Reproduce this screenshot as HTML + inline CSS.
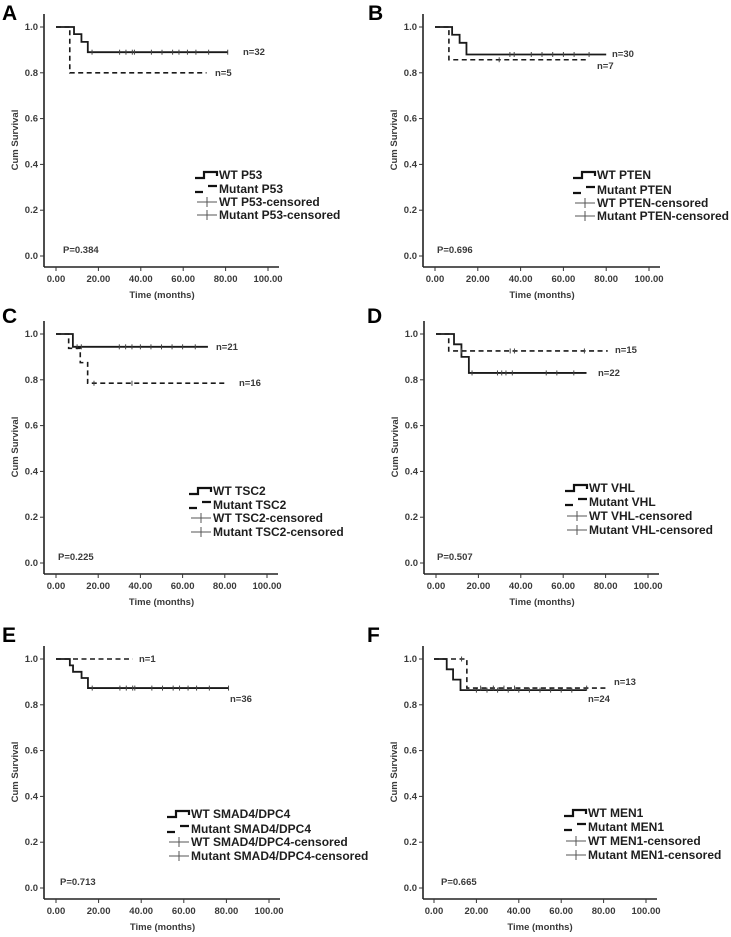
<!DOCTYPE html>
<html><head><meta charset="utf-8"><style>
html,body{margin:0;padding:0;background:#fff;}
svg{display:block;}
text{font-family:"Liberation Sans",Arial,sans-serif;fill:#2a2a2a;}
.t{font-size:9.5px;font-weight:bold;fill:#3a3a3a;}
.lg{font-size:12px;font-weight:bold;fill:#1e1e1e;}
.pl{font-size:21px;font-weight:900;fill:#000;}
</style></head><body>
<svg id="s" width="731" height="937" xmlns="http://www.w3.org/2000/svg"></svg>
<script>
const S=document.getElementById('s');let h='';
function P(o){
 const {ax,x0,sx,y1,lab,lx,ly}=o;const sy=229;
 const X=t=>x0+t*sx,Y=v=>y1+(1-v)*sy;
 const yb=y1+240;
 h+=`<text class="pl" x="${lx}" y="${ly}">${lab}</text>`;
 h+=`<line x1="${ax}" y1="${y1-13}" x2="${ax}" y2="${yb}" stroke="#222" stroke-width="1.6"/>`;
 h+=`<line x1="${ax}" y1="${yb}" x2="${X(100)+11}" y2="${yb}" stroke="#222" stroke-width="1.6"/>`;
 for(let i=0;i<=5;i++){const v=i/5,y=Y(v);h+=`<line x1="${ax-4}" y1="${y}" x2="${ax}" y2="${y}" stroke="#333"/><text class="t" x="${ax-6}" y="${y+3}" text-anchor="end">${v.toFixed(1)}</text>`;}
 for(let i=0;i<=5;i++){const x=X(i*20);h+=`<line x1="${x}" y1="${yb}" x2="${x}" y2="${yb+4}" stroke="#333"/><text class="t" x="${x}" y="${yb+15}" text-anchor="middle">${(i*20).toFixed(2)}</text>`;}
 h+=`<text class="t" x="${(X(0)+X(100))/2}" y="${yb+31}" text-anchor="middle">Time (months)</text>`;
 h+=`<text class="t" transform="translate(${ax-26},${y1+113}) rotate(-90)" text-anchor="middle">Cum Survival</text>`;
 h+=`<text class="t" x="${o.px}" y="${y1+226}">P=${o.p}</text>`;
 for(const c of o.curves){
  let d=`M${X(0)},${Y(1)}`;let v=1;
  for(const [t,nv] of c.steps){d+=` H${X(t)} V${Y(nv)}`;v=nv;}
  d+=` H${X(c.end)}`;
  h+=`<path d="${d}" fill="none" stroke="#1a1a1a" stroke-width="${c.dash?1.6:1.8}" ${c.dash?'stroke-dasharray="5,3.5"':''}/>`;
  for(const t of c.cens){let vv=1;for(const [ts,nv] of c.steps) if(t>=ts) vv=nv;
   h+=`<line x1="${X(t)}" y1="${Y(vv)-2.5}" x2="${X(t)}" y2="${Y(vv)+2.5}" stroke="#444" stroke-width="1"/>`;}
  h+=`<text class="t" x="${c.nx}" y="${c.ny+3}">${c.n}</text>`;
 }
 const g=o.leg;const lx2=g.x,tx=g.x+24;const names=[`WT ${o.gene}`,`Mutant ${o.gene}`,`WT ${o.gene}-censored`,`Mutant ${o.gene}-censored`];
 g.y.forEach((y,i)=>{
  if(i==0)h+=`<path d="M${lx2},${y+3} H${lx2+9} V${y-3} H${lx2+22} V${y+1}" fill="none" stroke="#111" stroke-width="2.2"/>`;
  else if(i==1)h+=`<path d="M${lx2},${y+3} H${lx2+8} M${lx2+13},${y-3} H${lx2+22}" fill="none" stroke="#111" stroke-width="2.2"/>`;
  else h+=`<path d="M${lx2+2},${y} H${lx2+22} M${lx2+12},${y-5} V${y+5}" fill="none" stroke="#555" stroke-width="1"/>`;
  h+=`<text class="lg" x="${tx}" y="${y+4}">${names[i]}</text>`;
 });
}
const cm=[17,30,33,36,37,45,50,55,58,62,66,72,81];
P({ax:44,x0:56,sx:2.12,y1:27,lab:'A',lx:2,ly:20,p:'0.384',px:63,gene:'P53',
 curves:[{steps:[[8.5,0.969],[12,0.935],[15,0.89]],end:81,cens:cm,n:'n=32',nx:243,ny:52},
 {dash:1,steps:[[6.5,0.8]],end:71,cens:[],n:'n=5',nx:215,ny:73}],leg:{x:195,y:[175,189,202,215]}});
P({ax:423,x0:435,sx:2.14,y1:27,lab:'B',lx:368,ly:20,p:'0.696',px:437,gene:'PTEN',
 curves:[{steps:[[8,0.966],[11.5,0.931],[14.7,0.88]],end:80,cens:[35,37,45,50,55,60,65,72],n:'n=30',nx:612,ny:54},
 {dash:1,steps:[[6.5,0.857]],end:71,cens:[30],n:'n=7',nx:597,ny:66}],leg:{x:573,y:[175,190,203,216]}});
P({ax:44,x0:56,sx:2.11,y1:334,lab:'C',lx:2,ly:323,p:'0.225',px:58,gene:'TSC2',
 curves:[{steps:[[8,0.944]],end:72,cens:[10,12,30,33,36,40,45,50,55,60,66],n:'n=21',nx:216,ny:347},
 {dash:1,steps:[[6,0.9375],[11.5,0.875],[15,0.785]],end:81,cens:[18,36],n:'n=16',nx:239,ny:383}],leg:{x:189,y:[491,505,518,532]}});
P({ax:424,x0:436,sx:2.12,y1:334,lab:'D',lx:367,ly:323,p:'0.507',px:437,gene:'VHL',
 curves:[{steps:[[8.5,0.955],[12,0.9],[15.5,0.83]],end:71,cens:[17,29,31,33,36,52,57,65],n:'n=22',nx:598,ny:373},
 {dash:1,steps:[[6,0.926]],end:81,cens:[12,35,37,70],n:'n=15',nx:615,ny:350}],leg:{x:565,y:[488,502,516,530]}});
P({ax:44,x0:56,sx:2.13,y1:659,lab:'E',lx:2,ly:642,p:'0.713',px:60,gene:'SMAD4/DPC4',
 curves:[{steps:[[6.5,0.972],[8,0.944],[12,0.917],[15,0.873]],end:81,cens:cm,n:'n=36',nx:230,ny:699},
 {dash:1,steps:[],end:36,cens:[],n:'n=1',nx:139,ny:659}],leg:{x:167,y:[814,829,842,856]}});
P({ax:423,x0:434,sx:2.12,y1:659,lab:'F',lx:367,ly:642,p:'0.665',px:441,gene:'MEN1',
 curves:[{steps:[[6,0.955],[9,0.91],[12.5,0.864]],end:72,cens:[20,25,30,35,40,45,50,55,60,65],n:'n=24',nx:588,ny:699},
 {dash:1,steps:[[15.5,0.873]],end:81,cens:[13,22,28,33,38,72],n:'n=13',nx:614,ny:682}],leg:{x:564,y:[813,827,841,855]}});
S.innerHTML=h;
</script>
</body></html>
